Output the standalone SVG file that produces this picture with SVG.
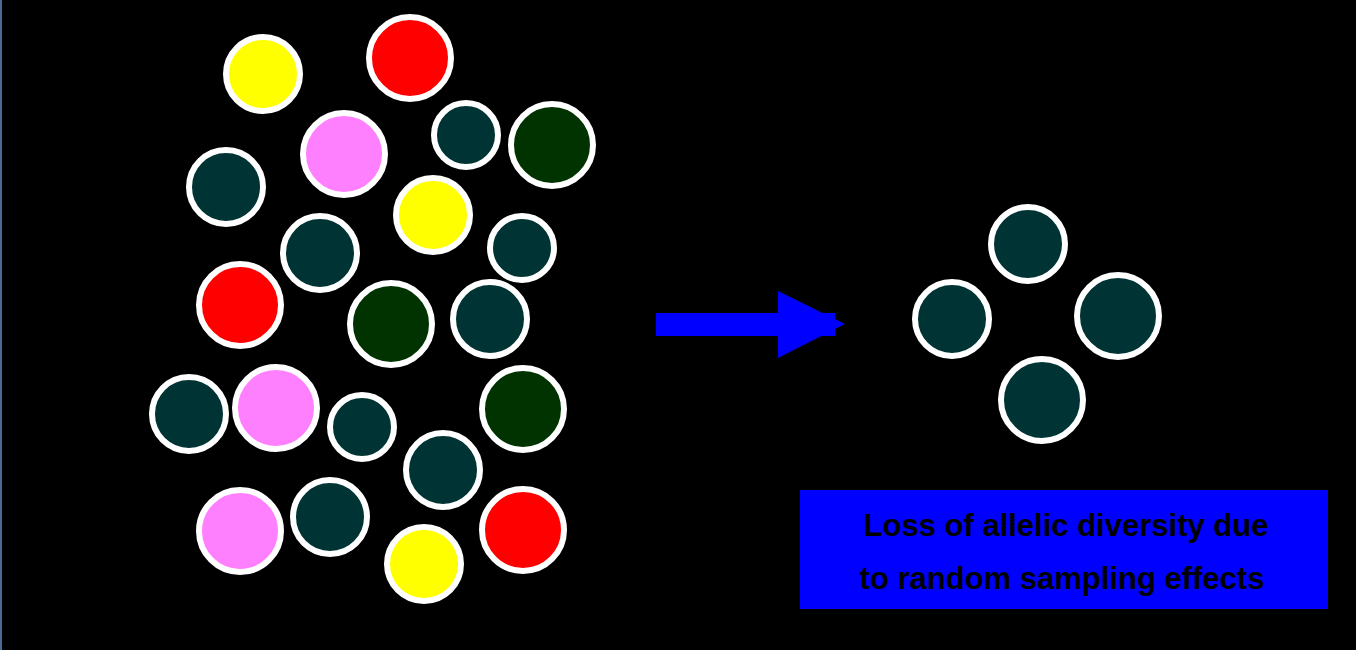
<svg xmlns="http://www.w3.org/2000/svg" width="1356" height="650" viewBox="0 0 1356 650">
<style>
circle{stroke:#fff;stroke-width:6}
.t{fill:#003333}.g{fill:#003300}.p{fill:#FF80FF}.y{fill:#FFFF00}.r{fill:#FF0000}
text{font-family:"Liberation Sans",Arial,sans-serif;font-weight:bold;font-size:31px;fill:#000;text-anchor:middle}
</style>
<rect width="1356" height="650" fill="#000"/>
<rect x="0" y="0" width="2" height="650" fill="#4a6a9a"/>
<g id="source-population">
<circle class="y" cx="263" cy="74" r="37"/>
<circle class="r" cx="410" cy="58" r="41"/>
<circle class="p" cx="344" cy="154" r="41"/>
<circle class="t" cx="466" cy="135" r="32"/>
<circle class="g" cx="552" cy="145" r="41"/>
<circle class="t" cx="226" cy="187" r="37"/>
<circle class="y" cx="433" cy="215" r="37"/>
<circle class="t" cx="320" cy="253" r="37"/>
<circle class="t" cx="522" cy="248" r="32"/>
<circle class="r" cx="240" cy="305" r="41"/>
<circle class="g" cx="391" cy="324" r="41"/>
<circle class="t" cx="490" cy="319" r="37"/>
<circle class="t" cx="189" cy="414" r="37"/>
<circle class="p" cx="276" cy="408" r="41"/>
<circle class="t" cx="362" cy="427" r="32"/>
<circle class="g" cx="523" cy="409" r="41"/>
<circle class="t" cx="443" cy="470" r="37"/>
<circle class="p" cx="240" cy="531" r="41"/>
<circle class="t" cx="330" cy="517" r="37"/>
<circle class="y" cx="424" cy="564" r="37"/>
<circle class="r" cx="523" cy="530" r="41"/>
</g>
<g id="sample-population">
<circle class="t" cx="1028" cy="244" r="37"/>
<circle class="t" cx="952" cy="319" r="37"/>
<circle class="t" cx="1118" cy="316" r="41"/>
<circle class="t" cx="1042" cy="400" r="41"/>
</g>
<g id="connectors">
<rect x="656" y="313" width="179" height="23" fill="#0000FF"/>
<polygon points="778,291 845,324 778,358" fill="#0000FF"/>
</g>
<g id="caption">
<rect x="800" y="490" width="528" height="119" fill="#0000FF"/>
<text x="1066" y="536">Loss of allelic diversity due</text>
<text x="1062" y="589">to random sampling effects</text>
</g>
</svg>
